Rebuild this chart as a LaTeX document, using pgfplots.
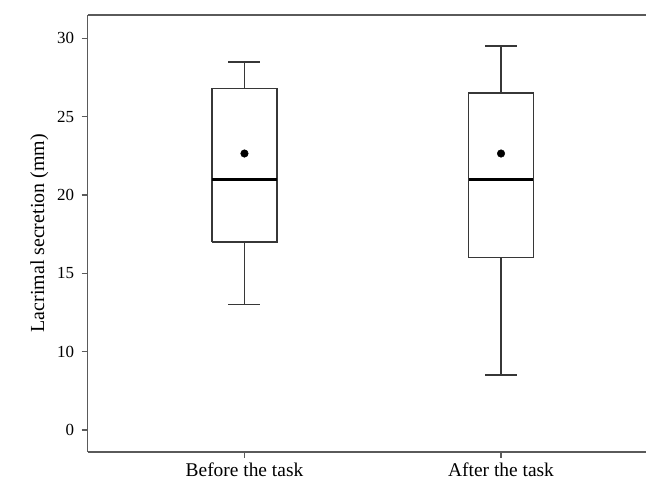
\documentclass[border=0pt]{standalone}
\usepackage{pgfplots}
\pgfplotsset{compat=1.18}
\usepackage{fontspec}
\setmainfont{Liberation Serif}
\definecolor{boxline}{RGB}{55,55,55}
\definecolor{axline}{RGB}{90,90,90}

\begin{document}
\begin{tikzpicture}
% y axis is drawn with the "0" tick sitting where 5 would be, as in the source figure
\begin{axis}[
scale only axis,
width = 558.3bp, height = 436.7bp,
xmin = 0.389, xmax = 2.565,
ymin = 3.62, ymax = 31.49,
axis y line* = left,
axis line style = {axline, line width=1.6bp},
tick style = {axline, line width=1.5bp},
tick align = outside,
major tick length = 6bp,
xtick pos = bottom,
xtick = {1,2},
xticklabels = {Before the task, After the task},
ytick = {5,10,15,20,25,30},
yticklabels = {0,10,15,20,25,30},
x tick label style = {font=\fontsize{19.5}{20}\selectfont, yshift=-2bp},
y tick label style = {font=\fontsize{17}{18}\selectfont, xshift=-4bp},
ylabel = {Lacrimal secretion (mm)},
ylabel style = {font=\fontsize{20}{22}\selectfont, yshift=2bp},
/pgf/number format/assume math mode=true,
unbounded coords = jump,
]

% Before the task: q1 17, median 21, q3 26.8, whiskers 13 / 28.5
\addplot[boxline, line width=1.5bp] coordinates {
(0.8735,17)(1.1265,17)(1.1265,26.8)(0.8735,26.8)(0.8735,17)};
\addplot[boxline, line width=1.5bp] coordinates {
(1,26.8)(1,28.5) (1,nan) (0.9376,28.5)(1.0624,28.5) (1,nan)
(1,17)(1,13) (1,nan) (0.9376,13)(1.0624,13)};
\addplot[black, line width=2.8bp] coordinates {(0.8735,21)(1.1265,21)};

% After the task: q1 16, median 21, q3 26.5, whiskers 8.5 / 29.5
\addplot[boxline, line width=1.5bp] coordinates {
(1.8735,16)(2.1265,16)(2.1265,26.5)(1.8735,26.5)(1.8735,16)};
\addplot[boxline, line width=1.5bp] coordinates {
(2,26.5)(2,29.5) (2,nan) (1.9376,29.5)(2.0624,29.5) (2,nan)
(2,16)(2,8.5) (2,nan) (1.9376,8.5)(2.0624,8.5)};
\addplot[black, line width=2.8bp] coordinates {(1.8735,21)(2.1265,21)};

% means
\addplot[only marks, mark=*, mark size=3.8bp, black]
coordinates {(1,22.65)(2,22.65)};

\end{axis}
\pgfresetboundingbox
\path ([shift={(-87.7bp,-34.3bp)}]current axis.south west)
  rectangle ([shift={(0bp,15bp)}]current axis.north east);
\end{tikzpicture}
\end{document}
